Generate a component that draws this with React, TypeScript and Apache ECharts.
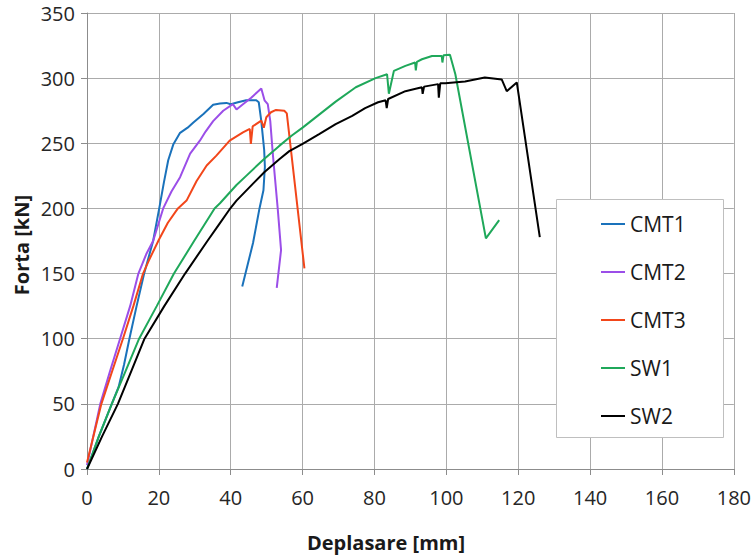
import React, { useEffect, useRef } from "react";
import * as echarts from "echarts";

const SERIES_NAMES = ["CMT1", "CMT2", "CMT3", "SW1", "SW2"];
const SERIES_COLORS = ["#1a72bb", "#9b4ee8", "#f2461a", "#1fa85a", "#000000"];

const CMT1: [number, number][] = [
  [0, 0], [3.3, 25], [6.9, 50], [8.8, 63], [10.3, 80], [11.8, 100], [13.8, 125], [15.9, 150],
  [18.4, 175], [20.1, 200], [21.4, 220], [22.6, 237], [24, 249], [25.9, 258], [28, 262],
  [29.6, 266], [32.4, 272.5], [35.1, 279.5], [37, 280.5], [38.8, 281], [40, 280], [42, 281.5],
  [44.3, 283], [47.1, 283], [47.8, 281.5], [48.5, 267], [49.3, 245], [49.5, 232], [49.1, 214],
  [48, 200], [46.2, 173.5], [43.2, 140],
];

const CMT2: [number, number][] = [
  [0, 3], [3.7, 50], [6.4, 75], [9.2, 100], [12, 125], [14.3, 150], [16.5, 165], [18.4, 175],
  [21.2, 200], [23.5, 213], [25.9, 224], [28.7, 242], [31.4, 252], [33, 259], [35.1, 267],
  [37.9, 275], [40.6, 280], [41.6, 276], [43.4, 280], [45.7, 285], [48.5, 292], [49.4, 283],
  [50.3, 280], [51, 267], [51.7, 242], [53.1, 199], [54, 168], [52.8, 139],
];

const CMT3: [number, number][] = [
  [0, 5], [4, 50], [7, 75], [10, 100], [12.9, 125], [15.6, 150], [17.2, 160], [20, 176],
  [22.5, 189], [25.3, 200], [27.7, 206], [30.5, 221], [33.3, 233], [36, 240.5], [39.7, 252],
  [43.4, 258.4], [45.3, 261], [45.6, 249.5], [46.1, 263], [48.5, 267.4], [49.2, 262], [49.9, 270],
  [51.2, 273.8], [52.6, 275.6], [54.9, 275], [55.6, 273], [60.5, 154],
];

const SW1: [number, number][] = [
  [0, 0], [3.3, 25], [6.9, 50], [10.7, 75], [14.5, 100], [19.4, 125], [24.2, 150], [29.8, 175],
  [35.5, 200], [37, 204], [41.6, 218], [44.3, 225], [48.9, 237], [53.5, 248], [57, 256], [60, 262],
  [64.6, 272], [69.2, 282], [74.8, 293], [80.3, 300], [83.5, 303], [84, 288], [85.4, 305.6],
  [88.6, 309.4], [91.3, 312], [91.5, 306], [91.8, 312.5], [93.2, 314.5], [96, 317], [98.7, 317],
  [98.9, 312], [99.2, 317.5], [101, 318], [102.5, 303], [111, 177], [114.7, 191],
];

const SW2: [number, number][] = [
  [0, 0], [4.2, 25], [8.6, 50], [12.3, 75], [16, 100], [21.5, 125], [27.3, 150], [33.5, 175],
  [36.8, 188], [39.6, 199], [41.6, 206], [46.2, 219], [49.4, 228], [53.6, 238], [56.3, 244],
  [60, 249.5], [64.6, 257], [69.2, 264.7], [73.8, 271], [77.4, 277], [81, 281.5], [83.1, 283],
  [83.4, 277], [83.8, 284], [88.6, 290], [93.2, 293], [93.4, 288], [93.8, 293.5], [97.7, 295.4],
  [97.9, 285], [98.3, 296], [99.7, 296], [105.2, 297.5], [110.7, 300.5], [115.4, 299],
  [116.8, 290], [119.6, 296.7], [126, 178],
];

const SERIES_DATA = [CMT1, CMT2, CMT3, SW1, SW2];

const X_TITLE = "Deplasare [mm]";
const Y_TITLE = "Forta [kN]";

export default function App() {
  const ref = useRef<HTMLDivElement>(null);

  useEffect(() => {
    if (!ref.current) return;
    const chart = echarts.init(ref.current, null, { renderer: "svg" });
    const font = "'Open Sans', 'DejaVu Sans', sans-serif";
    chart.setOption({
      animation: false,
      backgroundColor: "#ffffff",
      grid: { left: 87, right: 16, top: 13, bottom: 87, containLabel: false },
      xAxis: {
        type: "value",
        min: 0,
        max: 180,
        interval: 20,
        axisLine: { show: true, onZero: false, lineStyle: { color: "#8c8c8c", width: 1 } },
        axisTick: { show: true, length: 6, lineStyle: { color: "#8c8c8c" } },
        splitLine: { show: true, lineStyle: { color: "#ababab", width: 1 } },
        axisLabel: { fontFamily: font, fontSize: 20, color: "#262626", margin: 18 },
      },
      yAxis: {
        type: "value",
        min: 0,
        max: 350,
        interval: 50,
        axisLine: { show: true, onZero: false, lineStyle: { color: "#8c8c8c", width: 1 } },
        axisTick: { show: true, length: 6, lineStyle: { color: "#8c8c8c" } },
        splitLine: { show: true, lineStyle: { color: "#ababab", width: 1 } },
        axisLabel: { fontFamily: font, fontSize: 20, color: "#262626", margin: 12 },
      },
      legend: {
        orient: "vertical",
        left: 596,
        top: 208,
        itemWidth: 24,
        itemHeight: 2,
        itemGap: 26,
        icon: "rect",
        data: SERIES_NAMES,
        z: 10,
        textStyle: { fontFamily: font, fontSize: 21, color: "#1a1a1a", lineHeight: 22 },
      },
      graphic: [
        {
          type: "rect",
          z: 5,
          shape: { x: 556.5, y: 199.5, width: 167, height: 238 },
          style: { fill: "#ffffff", stroke: "#bfbfbf", lineWidth: 1 },
        },
        {
          type: "text",
          x: 386,
          y: 542,
          style: {
            text: X_TITLE,
            fontFamily: font,
            fontSize: 20,
            fontWeight: "bold",
            fill: "#1a1a1a",
            textAlign: "center",
            textVerticalAlign: "middle",
          },
        },
        {
          type: "text",
          x: 21,
          y: 245,
          rotation: Math.PI / 2,
          style: {
            text: Y_TITLE,
            fontFamily: font,
            fontSize: 20,
            fontWeight: "bold",
            fill: "#1a1a1a",
            textAlign: "center",
            textVerticalAlign: "middle",
          },
        },
      ],
      series: SERIES_NAMES.map((name, i) => ({
        name,
        type: "line",
        data: SERIES_DATA[i],
        showSymbol: false,
        symbol: "none",
        color: SERIES_COLORS[i],
        lineStyle: { color: SERIES_COLORS[i], width: 2 },
        z: 2,
      })),
    });
    return () => chart.dispose();
  }, []);

  return (
    <div
      ref={ref}
      style={{ position: "fixed", left: 0, top: 0, width: 754, height: 556, background: "#fff" }}
    />
  );
}
